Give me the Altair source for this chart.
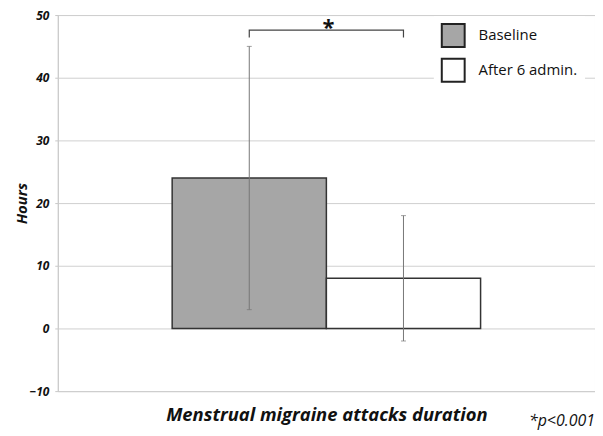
import altair as alt
import pandas as pd

categories = ["Baseline", "After 6 admin."]
means = [24, 8]
err_low = [3, -2]
err_high = [45, 18]
fills = ["#a6a6a6", "#ffffff"]
y_ticks = [-10, 0, 10, 20, 30, 40, 50]
bracket_top = 47.6
bracket_foot = 46.4
star_y = 48.0

FONT = "Open Sans"

bars = pd.DataFrame({"cat": categories, "mean": means, "lo": err_low, "hi": err_high})
bracket = pd.DataFrame({
    "cat": [categories[0], categories[0], categories[1], categories[1]],
    "y": [bracket_foot, bracket_top, bracket_top, bracket_foot],
    "o": [0, 1, 2, 3],
})

xscale = alt.Scale(domain=categories, paddingInner=0, paddingOuter=0.742)
yscale = alt.Scale(domain=[-10, 50], nice=False, zero=False)

x_enc = alt.X("cat:N", scale=xscale, sort=categories,
              axis=alt.Axis(labels=False, ticks=False, domain=False,
                            title="Menstrual migraine attacks duration",
                            titleFont=FONT, titleFontSize=18.5, titleFontWeight="bold",
                            titleFontStyle="italic", titleColor="#111", titlePadding=15))
y_enc = alt.Y("mean:Q", scale=yscale,
              axis=alt.Axis(values=y_ticks, domain=False, tickSize=3, tickColor="#c8c8c8",
                            gridColor="#d0d0d0", labelFont=FONT, labelFontSize=12,
                            labelFontWeight="bold", labelFontStyle="italic", labelColor="#111",
                            labelPadding=6, title="Hours", titleFont=FONT, titleFontSize=15,
                            titleFontWeight="bold", titleFontStyle="italic", titleColor="#111",
                            titlePadding=0))

bar_layer = alt.Chart(bars).mark_bar(stroke="#333333", strokeWidth=1.5).encode(
    x=x_enc,
    y=y_enc,
    fill=alt.Fill("cat:N", scale=alt.Scale(domain=categories, range=fills),
                  legend=alt.Legend(title=None, orient="none", legendX=378, legendY=1,
                                    symbolType="square", symbolSize=529,
                                    symbolStrokeColor="#222", symbolStrokeWidth=2,
                                    labelFont=FONT, labelFontSize=15, labelColor="#111",
                                    labelOffset=13, rowPadding=4, padding=7,
                                    fillColor="white", symbolOpacity=1)),
)

err_rule = alt.Chart(bars).mark_rule(color="#777777", strokeWidth=1).encode(
    x=alt.X("cat:N", scale=xscale, sort=categories),
    y=alt.Y("lo:Q", scale=yscale),
    y2="hi:Q",
)
cap_lo = alt.Chart(bars).mark_tick(color="#777777", thickness=1, size=5, orient="horizontal").encode(
    x=alt.X("cat:N", scale=xscale, sort=categories),
    y=alt.Y("lo:Q", scale=yscale),
)
cap_hi = alt.Chart(bars).mark_tick(color="#777777", thickness=1, size=5, orient="horizontal").encode(
    x=alt.X("cat:N", scale=xscale, sort=categories),
    y=alt.Y("hi:Q", scale=yscale),
)

bracket_layer = alt.Chart(bracket).mark_line(color="#444444", strokeWidth=1.2).encode(
    x=alt.X("cat:N", scale=xscale, sort=categories),
    y=alt.Y("y:Q", scale=yscale),
    order="o:Q",
)

star = alt.Chart(pd.DataFrame({"t": ["*"]})).mark_text(
    font=FONT, fontSize=22, fontWeight="bold", color="#111", baseline="middle"
).encode(x=alt.value(272), y=alt.datum(star_y, scale=yscale), text="t:N")

pval = alt.Chart(pd.DataFrame({"t": ["*p<0.001"]})).mark_text(
    font=FONT, fontSize=16, fontStyle="italic", color="#111", align="right", baseline="middle"
).encode(x=alt.value(540), y=alt.value(408), text="t:N")

chart = alt.layer(bar_layer, err_rule, cap_lo, cap_hi, bracket_layer, star, pval).properties(
    width=540, height=378,
    autosize=alt.AutoSizeParams(type="none"),
    padding={"left": 50, "top": 6, "right": 0, "bottom": 40},
    background="white",
).configure_view(stroke="#b8b8b8", strokeWidth=1)

chart.save("out.html", embed_options={"renderer": "svg", "actions": False})
